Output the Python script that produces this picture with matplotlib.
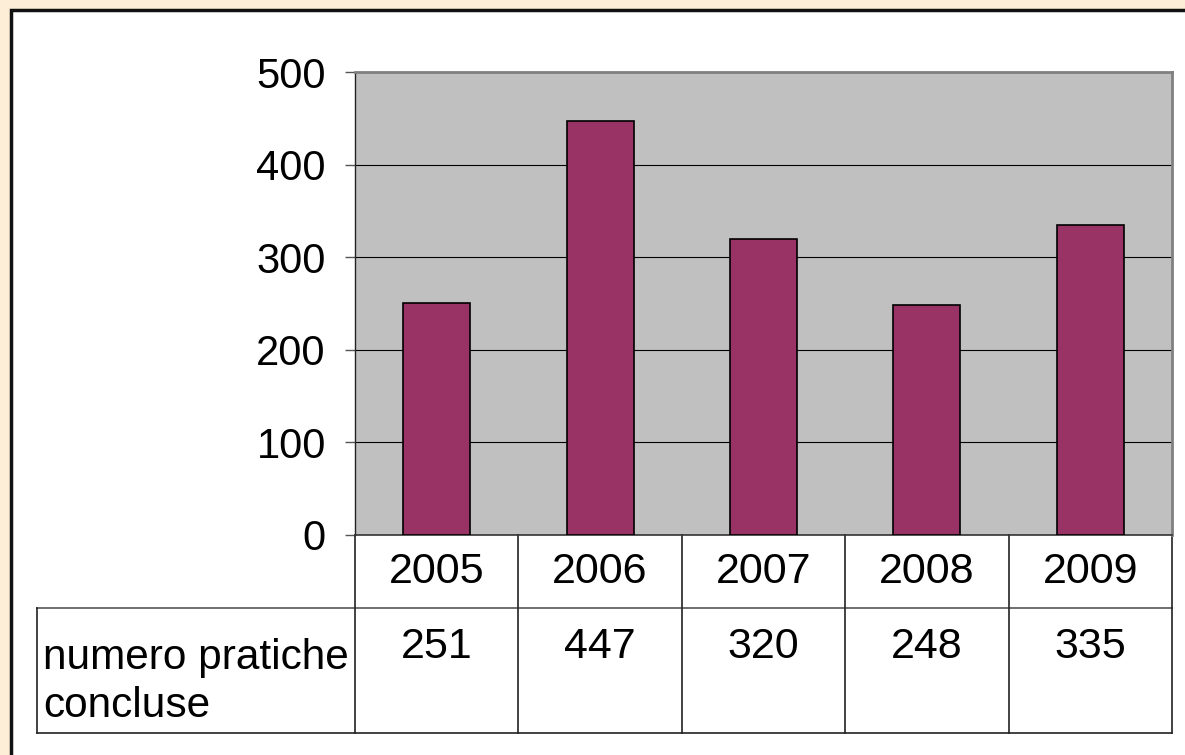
import matplotlib
matplotlib.use("Agg")
import matplotlib.pyplot as plt
from matplotlib.patches import Rectangle
from matplotlib.lines import Line2D
from matplotlib.transforms import blended_transform_factory

plt.rcParams['font.family'] = ['Liberation Sans', 'DejaVu Sans']

years = ["2005", "2006", "2007", "2008", "2009"]
values = [251, 447, 320, 248, 335]
row_label = "numero pratiche\nconcluse"
yticks = [0, 100, 200, 300, 400, 500]

W, H = 1185, 755
fig = plt.figure(figsize=(W / 100, H / 100), dpi=100)
fig.patch.set_facecolor('#FDEFD7')

def fx(px):
    return px / W

def fy(py):
    return 1 - py / H

# white panel with black border on left/top
panel = Rectangle((fx(11), fy(1000)), fx(1300), fy(10) - fy(1000), transform=fig.transFigure,
                  facecolor='white', edgecolor='#111111', linewidth=2.5, zorder=-5)
fig.patches.append(panel)

L, R, T, B = 355, 1172, 72, 535
ax = fig.add_axes([fx(L), fy(B), fx(R) - fx(L), fy(T) - fy(B)])
ax.set_zorder(2)
ax.set_facecolor('#C0C0C0')
x = list(range(len(years)))
ax.bar(x, values, width=0.41, color='#993366', edgecolor='black', linewidth=1.2, zorder=3)
ax.set_xlim(-0.5, len(years) - 0.5)
ax.set_ylim(0, 500)
ax.set_yticks(yticks)
ax.set_yticklabels([str(v) for v in yticks], fontsize=30)
ax.tick_params(axis='y', length=7, width=1, pad=14, color='#555555')
ax.set_xticks([])
ax.grid(axis='y', color='black', linewidth=0.8, zorder=1)
ax.set_axisbelow(True)
for s in ['top', 'right']:
    ax.spines[s].set_color('#808080')
    ax.spines[s].set_linewidth(2)
ax.spines['left'].set_color('#222222')
ax.spines['left'].set_linewidth(1)
ax.spines['bottom'].set_color('#333333')
ax.spines['bottom'].set_linewidth(1.2)

# table below
def ay(py):
    return (B - py) / (B - T)

tr = blended_transform_factory(ax.transData, ax.transAxes)
lc = '#555555'
row1_bot = 608
row2_bot = 733
ax.add_line(Line2D([fx(37), fx(R)], [fy(row1_bot)] * 2, transform=fig.transFigure, color=lc, lw=1.2, clip_on=False))
ax.add_line(Line2D([fx(37), fx(R)], [fy(row2_bot)] * 2, transform=fig.transFigure, color='#222222', lw=1.2, clip_on=False))
ax.add_line(Line2D([fx(37), fx(37)], [fy(row1_bot), fy(row2_bot)], transform=fig.transFigure, color='#222222', lw=1.2, clip_on=False))
for i in range(len(years) + 1):
    xe = i - 0.5
    ax.add_line(Line2D([xe, xe], [0, ay(row2_bot)], transform=tr, color='#222222', lw=1.2, clip_on=False))
for i, (yr, v) in enumerate(zip(years, values)):
    ax.text(i, ay(572), yr, transform=tr, ha='center', va='center', fontsize=31, clip_on=False)
    ax.text(i, ay(647), str(v), transform=tr, ha='center', va='center', fontsize=31, clip_on=False)
fig.text(fx(43), fy(682), row_label, ha='left', va='center', fontsize=30.5, linespacing=1.28)

fig.savefig('out.png', dpi=100, facecolor=fig.get_facecolor())
